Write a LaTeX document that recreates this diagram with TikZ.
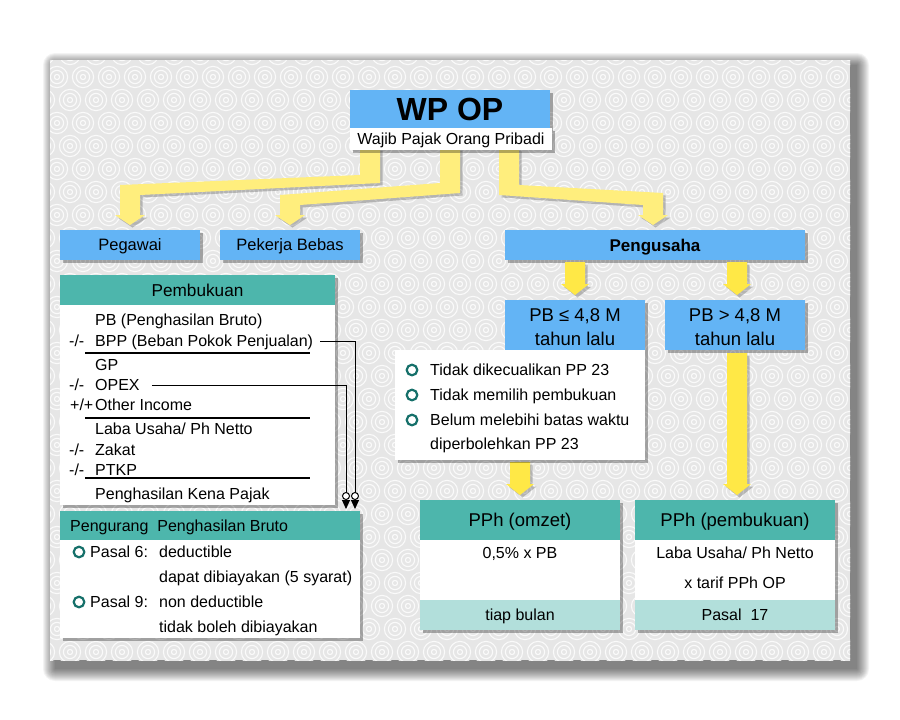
\documentclass[tikz,border=0pt]{standalone}
\usepackage{fontspec}
\setmainfont{Liberation Sans}
\usetikzlibrary{arrows.meta,calc,shadows}
\definecolor{bx}{RGB}{99,180,245}
\definecolor{tl}{RGB}{77,182,172}
\definecolor{ltl}{RGB}{178,223,219}
\definecolor{dtl}{RGB}{22,112,106}
\definecolor{ypale}{RGB}{255,238,125}
\definecolor{ybright}{RGB}{255,232,70}
\definecolor{patbg}{RGB}{230,230,230}
\definecolor{patln}{RGB}{250,250,250}
\newcommand{\yarrow}[2]{\fill[black,opacity=.22,shift={(2.5,2.5)}] #2; \fill[#1] #2;}
\newcommand{\vfat}[4]{\yarrow{#1}{(#2-10,#3) -- (#2+10,#3) -- (#2+10,#4-11) -- (#2+14,#4-11) -- (#2,#4) -- (#2-14,#4-11) -- (#2-10,#4-11) -- cycle}}
\tikzset{
  sh/.style={drop shadow={shadow xshift=2.5pt,shadow yshift=-2.5pt,opacity=0.3,fill=black}},
  blk/.style={anchor=north west,inner sep=0pt,outer sep=0pt,sh},
  t/.style={inner sep=0pt,text height=11.5pt,text depth=0pt,font=\fontsize{16}{19}\selectfont},
  tl16/.style={t,anchor=west},
  big/.style={inner sep=0pt,text height=13.2pt,text depth=0pt,font=\fontsize{18.5}{22}\selectfont},
  hd/.style={inner sep=0pt,text height=12.3pt,text depth=0pt,font=\fontsize{17.2}{20}\selectfont},
  rule/.style={line width=1.5pt},
  bul/.style={draw=dtl,line width=2.2pt},
  conn/.style={line width=0.9pt,-{Circle[open,fill=white,length=8pt,line width=1pt] Triangle[length=9pt,width=8pt]},shorten >=2pt}
}
\begin{document}
\begin{tikzpicture}[x=1pt,y=-1pt]
\useasboundingbox (0,0) rectangle (900,720);
\fill[white] (0,0) rectangle (900,720);
% panel shadow
\foreach \k in {0,...,12}{\fill[black,opacity=0.048,rounded corners=\k pt] (55-\k,65-\k) rectangle (857+\k,669+\k);}
% panel pattern
\begin{scope}
\clip (50,60) rectangle (850,660);
\fill[patbg] (50,60) rectangle (850,660);
\foreach \j in {0,...,27}{\foreach \i in {0,...,31}{
  \pgfmathsetmacro\px{44+\i*26+mod(\j,2)*13}
  \pgfmathsetmacro\py{54+\j*23}
  \fill[patbg] (\px,\py) circle[radius=12.6];
  \draw[patln,line width=1.1pt] (\px,\py) circle[radius=2.6] circle[radius=6.6] circle[radius=10.6];
}}
\end{scope}
% yellow fat arrows from WP OP
\yarrow{ypale}{(360,148) -- (380,148) -- (380,183) -- (140,195) -- (140,215) -- (145,215) -- (130,225) -- (115,215) -- (120,215) -- (120,185) -- (360,175) -- cycle}
\yarrow{ypale}{(440,148) -- (460,148) -- (460,193) -- (300,205) -- (300,215) -- (305,215) -- (290,225) -- (275,215) -- (280,215) -- (280,195) -- (440,183) -- cycle}
\yarrow{ypale}{(499,148) -- (519,148) -- (519,185) -- (663,193) -- (663,215) -- (668,215) -- (653,225) -- (638,215) -- (643,215) -- (643,205) -- (499,195) -- cycle}
% WP OP
\node[blk,fill=bx,minimum width=200pt,minimum height=38pt] (wp) at (350,90) {};
\node[blk,fill=white,minimum width=202pt,minimum height=22pt] (wpsub) at (350,128) {};
\node[inner sep=0pt,text height=23pt,text depth=0pt,font=\fontsize{32}{36}\selectfont\bfseries] at (wp.center) {WP OP};
\node[t] at (wpsub.center) {Wajib Pajak Orang Pribadi};
% level 2
\node[blk,fill=bx,minimum width=140pt,minimum height=30pt] (peg) at (60,230) {};
\node[t,font=\fontsize{16.5}{19}\selectfont] at (peg.center) {Pegawai};
\node[blk,fill=bx,minimum width=140pt,minimum height=30pt] (pek) at (220,230) {};
\node[t,font=\fontsize{16.5}{19}\selectfont] at (pek.center) {Pekerja Bebas};
\node[blk,fill=bx,minimum width=300pt,minimum height=30pt] (pus) at (505,230) {};
\node[hd,font=\fontsize{17}{20}\selectfont\bfseries] at (pus.center) {Pengusaha};
% small arrows
\vfat{ybright}{575}{262}{295}
\vfat{ybright}{737}{262}{295}
\vfat{ybright}{520}{462}{495}
\vfat{ybright}{737}{353}{495}
% PB boxes
\node[blk,fill=bx,minimum width=140pt,minimum height=50pt] (pble) at (505,300) {};
\node[big] at (575,315) {PB ≤ 4,8 M};
\node[big] at (575,339) {tahun lalu};
\node[blk,fill=bx,minimum width=140pt,minimum height=50pt] (pbgt) at (665,300) {};
\node[big] at (pbgt.center |- 0,315) {PB > 4,8 M};
\node[big] at (pbgt.center |- 0,339) {tahun lalu};
% criteria
\node[blk,fill=white,minimum width=250pt,minimum height=110pt] (crit) at (395,350) {};
\draw[bul] (412,370) circle[radius=5.3];
\draw[bul] (412,395) circle[radius=5.3];
\draw[bul] (412,420) circle[radius=5.3];
\node[tl16] at (430,370) {Tidak dikecualikan PP 23};
\node[tl16] at (430,395) {Tidak memilih pembukuan};
\node[tl16] at (430,420) {Belum melebihi batas waktu};
\node[tl16] at (430,444) {diperbolehkan PP 23};
% PPh omzet
\node[blk,fill=tl,minimum width=200pt,minimum height=40pt] (omh) at (420,500) {};
\node[blk,fill=white,minimum width=200pt,minimum height=60pt] (omb) at (420,540) {};
\node[blk,fill=ltl,minimum width=200pt,minimum height=30pt] (omf) at (420,600) {};
\node[big] at (omh.center) {PPh (omzet)};
\node[t] at (omb.center |- 0,553) {0,5\% x PB};
\node[t] at (omf.center) {tiap bulan};
% PPh pembukuan
\node[blk,fill=tl,minimum width=200pt,minimum height=40pt] (pph) at (635,500) {};
\node[blk,fill=white,minimum width=200pt,minimum height=60pt] (ppb) at (635,540) {};
\node[blk,fill=ltl,minimum width=200pt,minimum height=30pt] (ppf) at (635,600) {};
\node[big] at (pph.center) {PPh (pembukuan)};
\node[t] at (ppb.center |- 0,553) {Laba Usaha/ Ph Netto};
\node[t] at (ppb.center |- 0,583) {x tarif PPh OP};
\node[t] at (ppf.center) {Pasal\ \ 17};
% Pembukuan
\node[blk,fill=tl,minimum width=275pt,minimum height=30pt] (pembh) at (60,275) {};
\node[blk,fill=white,minimum width=275pt,minimum height=200pt] (pembb) at (60,305) {};
\node[hd] at (pembh.center) {Pembukuan};
\node[tl16] (pb) at (95,320) {PB (Penghasilan Bruto)};
\node[tl16] at (69,341) {-/-};
\node[tl16] (bpp) at (95,341) {BPP (Beban Pokok Penjualan)};
\draw[rule] (85,353) -- (310,353);
\node[tl16] (gp) at (95,365) {GP};
\node[tl16] at (69,385) {-/-};
\node[tl16] (opex) at (95,385) {OPEX};
\node[tl16] at (70,405) {+/+};
\node[tl16] (oi) at (95,405) {Other Income};
\draw[rule] (85,418) -- (310,418);
\node[tl16] (laba) at (95,429) {Laba Usaha/ Ph Netto};
\node[tl16] at (69,450) {-/-};
\node[tl16] (zakat) at (95,450) {Zakat};
\node[tl16] at (69,470) {-/-};
\node[tl16] (ptkp) at (95,470) {PTKP};
\draw[rule] (85,478) -- (310,478);
\node[tl16] (pkp) at (95,494) {Penghasilan Kena Pajak};
% Pengurang
\node[blk,fill=tl,minimum width=300pt,minimum height=29pt] (penghead) at (60,511) {};
\node[blk,fill=white,minimum width=300pt,minimum height=98pt] (pengbody) at (60,540) {};
\node[tl16] at (70,526) {Pengurang\ \ Penghasilan Bruto};
\draw[bul] (79,552) circle[radius=5.3];
\node[tl16] at (90,552) {Pasal 6:};
\node[tl16] at (159,552) {deductible};
\node[tl16] at (159,577) {dapat dibiayakan (5 syarat)};
\draw[bul] (79,602) circle[radius=5.3];
\node[tl16] at (90,602) {Pasal 9:};
\node[tl16] at (159,602) {non deductible};
\node[tl16] at (159,627) {tidak boleh dibiayakan};
% connectors
\draw[conn] ([xshift=7pt]bpp.east) -| ([xshift=-5pt]penghead.north east);
\draw[conn] ([xshift=12pt]opex.east) -| ([xshift=-14pt]penghead.north east);
\end{tikzpicture}
\end{document}
